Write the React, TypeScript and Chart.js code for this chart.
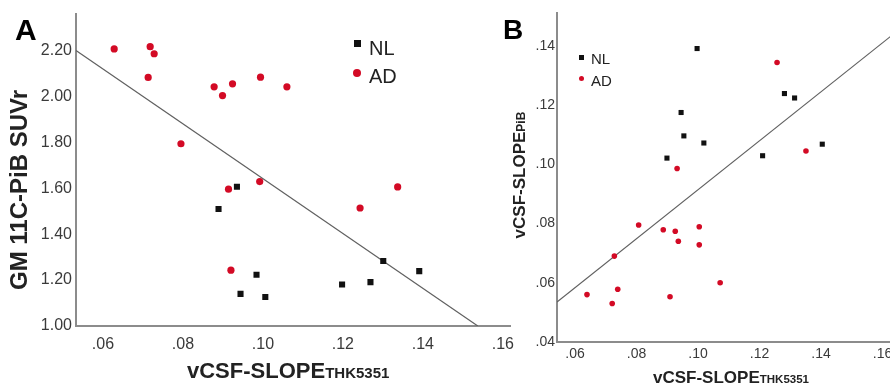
import React, { useEffect, useRef } from 'react';
import { Chart, registerables } from 'chart.js';

Chart.register(...registerables);

// ---------- Panel A data ----------
const A_NL_X = [0.0935, 0.0889, 0.0944, 0.0984, 0.1006, 0.1198, 0.1269, 0.1301, 0.1391];
const A_NL_Y = [1.607, 1.510, 1.140, 1.223, 1.126, 1.181, 1.191, 1.283, 1.239];
const A_AD_X = [0.0628, 0.0718, 0.0728, 0.0713, 0.0878, 0.0899, 0.0924, 0.0994, 0.1060, 0.0795, 0.0914, 0.0992, 0.1337, 0.1243, 0.0920];
const A_AD_Y = [2.207, 2.217, 2.186, 2.083, 2.042, 2.004, 2.055, 2.084, 2.042, 1.794, 1.596, 1.629, 1.606, 1.514, 1.243];
const A_FIT_X = [0.05325, 0.15375];
const A_FIT_Y = [2.20, 1.00];
const A_X_TICKS = [0.06, 0.08, 0.10, 0.12, 0.14, 0.16];
const A_Y_TICKS = [1.0, 1.2, 1.4, 1.6, 1.8, 2.0, 2.2];

// ---------- Panel B data ----------
const B_NL_X = [0.0997, 0.1281, 0.1314, 0.0945, 0.0954, 0.1019, 0.0899, 0.1210, 0.1404];
const B_NL_Y = [0.1391, 0.1239, 0.1224, 0.1175, 0.1096, 0.1072, 0.1021, 0.1029, 0.1068];
const B_AD_X = [0.1257, 0.1351, 0.0932, 0.0807, 0.0887, 0.0926, 0.1004, 0.0936, 0.1004, 0.0728, 0.1072, 0.0739, 0.0639, 0.0909, 0.0721];
const B_AD_Y = [0.1344, 0.1045, 0.0986, 0.0795, 0.0779, 0.0774, 0.0789, 0.0740, 0.0728, 0.0690, 0.0600, 0.0578, 0.0560, 0.0553, 0.0530];
const B_FIT_X = [0.05415, 0.166];
const B_FIT_Y = [0.0535, 0.146];
const B_X_TICKS = [0.06, 0.08, 0.10, 0.12, 0.14, 0.16];
const B_Y_TICKS = [0.04, 0.06, 0.08, 0.10, 0.12, 0.14];

const LEGEND_LABELS = ['NL', 'AD'];

const FONT = "'Liberation Sans', Arial, Helvetica, sans-serif";
const RED = '#d30a25';
const BLACK = '#111111';
const AXIS = '#8c8c8c';
const FIT = '#606060';
const TICK = '#3a3a3a';

const zip = (xs: number[], ys: number[]) => xs.map((x, i) => ({ x, y: ys[i] }));
const fmtDot = (v: number) => v.toFixed(2).replace(/^0/, '');

function buildConfig(p: any): any {
  return {
    type: 'scatter',
    data: {
      datasets: [
        {
          type: 'line',
          data: zip(p.fitX, p.fitY),
          borderColor: FIT,
          borderWidth: 1.2,
          pointRadius: 0,
          fill: false,
          order: 3,
        },
        {
          data: zip(p.adX, p.adY),
          pointStyle: 'circle',
          pointRadius: p.dotR,
          backgroundColor: RED,
          borderWidth: 0,
          order: 1,
        },
        {
          data: zip(p.nlX, p.nlY),
          pointStyle: 'rect',
          pointRadius: p.rectR,
          backgroundColor: BLACK,
          borderWidth: 0,
          order: 2,
        },
      ],
    },
    options: {
      animation: false,
      responsive: false,
      events: [],
      layout: { padding: { top: p.top, right: p.right, bottom: 0, left: 0 } },
      plugins: { legend: { display: false }, tooltip: { enabled: false }, title: { display: false } },
      scales: {
        x: {
          type: 'linear',
          min: p.xMin,
          max: p.xMax,
          afterBuildTicks: (s: any) => { s.ticks = p.xTicks.map((v: number) => ({ value: v })); },
          afterFit: (s: any) => { s.height = p.xH; },
          grid: { display: false, drawTicks: false },
          border: { display: true, color: AXIS, width: 2 },
          ticks: {
            padding: p.xPad,
            color: TICK,
            font: { family: FONT, size: p.tickSize },
            callback: (v: any) => fmtDot(Number(v)),
            maxRotation: 0,
            autoSkip: false,
          },
        },
        y: {
          type: 'linear',
          min: p.yMin,
          max: p.yMax,
          afterBuildTicks: (s: any) => { s.ticks = p.yTicks.map((v: number) => ({ value: v })); },
          afterFit: (s: any) => { s.width = p.yW; },
          grid: { display: false, drawTicks: false },
          border: { display: true, color: AXIS, width: 2 },
          ticks: {
            padding: p.yPad,
            color: TICK,
            font: { family: FONT, size: p.tickSize },
            callback: (v: any) => p.yFmt(Number(v)),
            autoSkip: false,
          },
        },
      },
    },
  };
}

const abs = (extra: any): any => ({ position: 'absolute', whiteSpace: 'nowrap', lineHeight: 1, fontFamily: FONT, ...extra });
// top for a given baseline with line-height 1
const topFor = (baseline: number, size: number) => baseline - 0.8465 * size;

export default function App() {
  const refA = useRef<HTMLCanvasElement>(null);
  const refB = useRef<HTMLCanvasElement>(null);

  useEffect(() => {
    const a = new Chart(refA.current as HTMLCanvasElement, buildConfig({
      fitX: A_FIT_X, fitY: A_FIT_Y, adX: A_AD_X, adY: A_AD_Y, nlX: A_NL_X, nlY: A_NL_Y,
      dotR: 3.6, rectR: 4.3, top: 13, right: 20,
      xMin: 0.05325, xMax: 0.1618, yMin: 1.0, yMax: 2.361,
      xTicks: A_X_TICKS, yTicks: A_Y_TICKS, xH: 58, yW: 76, xPad: 9, yPad: 4, tickSize: 16,
      yFmt: (v: number) => v.toFixed(2),
    }));
    const b = new Chart(refB.current as HTMLCanvasElement, buildConfig({
      fitX: B_FIT_X, fitY: B_FIT_Y, adX: B_AD_X, adY: B_AD_Y, nlX: B_NL_X, nlY: B_NL_Y,
      dotR: 2.8, rectR: 3.6, top: 13, right: 19,
      xMin: 0.05415, xMax: 0.166, yMin: 0.04, yMax: 0.1511,
      xTicks: B_X_TICKS, yTicks: B_Y_TICKS, xH: 42, yW: 57, xPad: 4, yPad: 2, tickSize: 14,
      yFmt: fmtDot,
    }));
    return () => { a.destroy(); b.destroy(); };
  }, []);

  return (
    <div style={{ position: 'absolute', left: 0, top: 0, width: 890, height: 384, overflow: 'hidden', background: '#fff', color: '#111' }}>
      <canvas ref={refA} width={530} height={384} style={{ position: 'absolute', left: 0, top: 0, width: 530, height: 384 }} />
      <canvas ref={refB} width={420} height={384} style={{ position: 'absolute', left: 500, top: 0, width: 420, height: 384 }} />

      {/* Panel letters */}
      <div style={abs({ left: 15, top: topFor(40, 30), fontSize: 30, fontWeight: 'bold', color: '#000' })}>A</div>
      <div style={abs({ left: 503, top: topFor(40, 28), fontSize: 28, fontWeight: 'bold', color: '#000' })}>B</div>

      {/* Panel A axis titles */}
      <div style={abs({ left: 187, top: topFor(379, 22), fontSize: 22, fontWeight: 'bold', color: '#222' })}>
        vCSF-SLOPE<span style={{ fontSize: 15 }}>THK5351</span>
      </div>
      <div style={abs({ left: 18.7, top: 190, width: 300, textAlign: 'center', fontSize: 24, fontWeight: 'bold', color: '#222', transform: 'translate(-50%, -50%) rotate(-90deg)' })}>
        GM 11C-PiB SUVr
      </div>

      {/* Panel B axis titles */}
      <div style={abs({ left: 653, top: topFor(383, 17), fontSize: 17, fontWeight: 'bold', color: '#222' })}>
        vCSF-SLOPE<span style={{ fontSize: 11.5 }}>THK5351</span>
      </div>
      <div style={abs({ left: 519, top: 175, width: 200, textAlign: 'center', fontSize: 17, fontWeight: 'bold', color: '#222', transform: 'translate(-50%, -50%) rotate(-90deg)' })}>
        vCSF-SLOPE<span style={{ fontSize: 12 }}>PiB</span>
      </div>

      {/* Panel A legend */}
      <div style={{ position: 'absolute', left: 353.5, top: 39.5, width: 7, height: 7, background: BLACK }} />
      <div style={abs({ left: 369, top: topFor(54.7, 20), fontSize: 20, color: '#222' })}>{LEGEND_LABELS[0]}</div>
      <div style={{ position: 'absolute', left: 353, top: 69, width: 8, height: 8, borderRadius: '50%', background: RED }} />
      <div style={abs({ left: 369, top: topFor(82.7, 20), fontSize: 20, color: '#222' })}>{LEGEND_LABELS[1]}</div>

      {/* Panel B legend */}
      <div style={{ position: 'absolute', left: 578.5, top: 54.5, width: 5, height: 5, background: BLACK }} />
      <div style={abs({ left: 591, top: topFor(63.9, 15), fontSize: 15, color: '#222' })}>{LEGEND_LABELS[0]}</div>
      <div style={{ position: 'absolute', left: 578.5, top: 75.5, width: 5, height: 5, borderRadius: '50%', background: RED }} />
      <div style={abs({ left: 591, top: topFor(85.4, 15), fontSize: 15, color: '#222' })}>{LEGEND_LABELS[1]}</div>
    </div>
  );
}
